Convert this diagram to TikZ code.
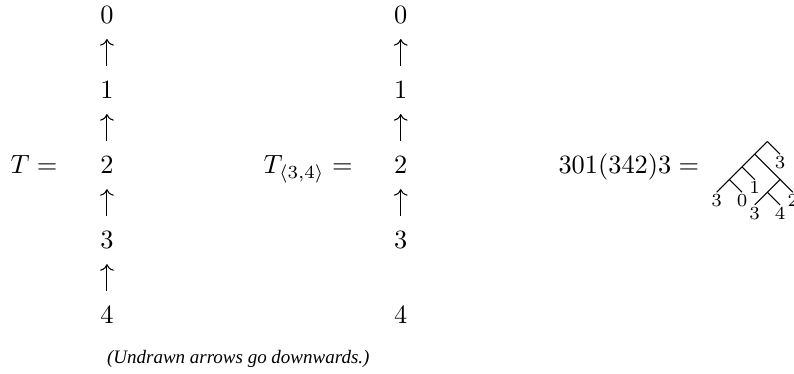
\documentclass[tikz,border=0pt]{standalone}
\usepackage{amsmath,amssymb}
\usepackage{fontspec}
\usepackage{tikz}
\newfontfamily\capfont{Liberation Serif}
\usetikzlibrary{arrows.meta}

\begin{document}
\begin{tikzpicture}[line width=0.4pt]
\useasboundingbox (0,0) rectangle (10.58,4.98);
\def\gap{0.2}
\tikzset{num/.style={inner sep=0pt},lbl/.style={anchor=base east,inner sep=0pt},
  leaf/.style={anchor=north,inner sep=0.6pt,font=\scriptsize}}
% the two chains
\foreach \i/\y in {0/4.78,1/3.78,2/2.78,3/1.78,4/0.78}{
  \node[num] (t\i) at (1.425,\y) {$\i$};
  \node[num] (s\i) at (5.34,\y) {$\i$};
}
\foreach \a/\b in {1/0,2/1,3/2,4/3} \draw[->,shorten >=\gap cm,shorten <=\gap cm] (t\a)--(t\b);
\foreach \a/\b in {1/0,2/1,3/2} \draw[->,shorten >=\gap cm,shorten <=\gap cm] (s\a)--(s\b);
\node[lbl] (tname) at (0.773,2.67) {$T=$};
\node[lbl] (sname) at (4.706,2.67) {$T_{\langle 3,4\rangle}=$};
\node[lbl] (wname) at (9.324,2.67) {$301(342)3=$};
\node[anchor=base west,inner sep=0pt,font=\capfont\itshape\fontsize{7.2}{9}\selectfont] (note) at (1.42,0.142) {(Undrawn arrows go downwards.)};
% the tree
\begin{scope}[shift={(10.226,3.094)},x=0.169cm,y=0.169cm]
  \draw (0,0)--(-4,-4); \draw (0,0)--(1,-1);
  \draw (-2,-2)--(-1,-3); \draw (-3,-3)--(-2,-4);
  \draw (-1,-1)--(2,-4); \draw (1,-3)--(-1,-5); \draw (0,-4)--(1,-5);
  \node[leaf] (r1) at (1,-1) {3};
  \node[leaf] (b1) at (-1,-3) {1};
  \node[leaf] (d1) at (-4,-4) {3};
  \node[leaf] (d2) at (-2,-4) {0};
  \node[leaf] (c1) at (2,-4) {2};
  \node[leaf] (e1) at (-1,-5) {3};
  \node[leaf] (e2) at (1,-5) {4};
\end{scope}
\end{tikzpicture}
\end{document}
